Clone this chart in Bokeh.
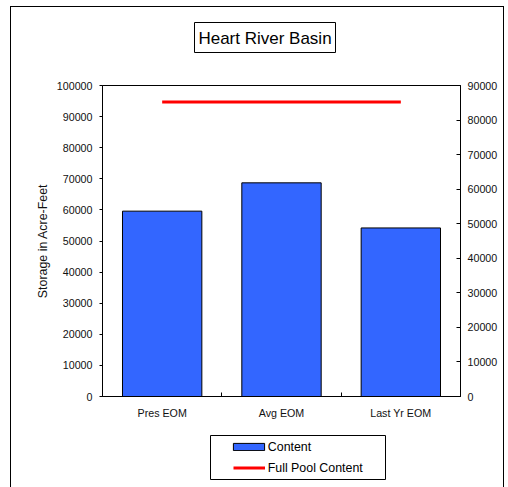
from bokeh.plotting import figure
from bokeh.layouts import column
from bokeh.models import (Range1d, LinearAxis, FixedTicker, NumeralTickFormatter,
                          Legend, LegendItem, ColumnDataSource, BoxAnnotation, Label)
from bokeh.embed import file_html
from bokeh.resources import INLINE

# ---- data ----
categories = ["Pres EOM", "Avg EOM", "Last Yr EOM"]
content = [59600, 68700, 54200]
full_pool = [85200, 85200, 85200]          # plotted on secondary axis
left_ticks = list(range(0, 100001, 10000))
right_ticks = list(range(0, 90001, 10000))
title_text = "Heart River Basin"
y_label = "Storage in Acre-Feet"
legend_labels = ["Content", "Full Pool Content"]

FONT = "Liberation Sans"
W = 505
H0, H1, H2 = 75, 350, 62          # title strip, chart, legend strip
FL, FR = 102, 460                 # frame left/right (page px)
TOP1 = 10                         # chart frame top inside chart figure (page 85)
BOT1 = 396                        # chart frame bottom (page px)

BAR_FILL, BAR_LINE, POOL_COLOR = "#3366FF", "#000000", "#FF0000"

xs = list(range(len(categories)))
minor = [i + 0.5 for i in xs[:-1]]

# ---- title strip (frame spans the plot width; coordinates = page px) ----
t = figure(width=W, height=H0, output_backend="svg", toolbar_location=None,
           title=None, x_axis_location=None, y_axis_location=None,
           x_range=Range1d(FL, FR), y_range=Range1d(H0, 0),
           min_border_left=FL, min_border_right=W - FR,
           min_border_top=0, min_border_bottom=0)
t.grid.visible = False
t.outline_line_color = None
t.background_fill_color = None
t.border_fill_color = None
t.add_layout(BoxAnnotation(left=194, right=335, top=22, bottom=52,
                           fill_color="white", fill_alpha=1,
                           line_color="black", line_width=1, line_alpha=1))
t.add_layout(Label(x=264.5, y=37.5, text=title_text, text_align="center",
                   text_baseline="middle", text_font=FONT, text_font_size="17px",
                   text_color="black"))

# ---- chart ----
p = figure(width=W, height=H1, output_backend="svg", toolbar_location=None,
           title=None,
           x_range=Range1d(-0.5, len(categories) - 0.5),
           y_range=Range1d(left_ticks[0], left_ticks[-1]),
           min_border_left=FL, min_border_right=W - FR,
           min_border_top=TOP1, min_border_bottom=H0 + H1 - BOT1)
p.extra_y_ranges = {"right": Range1d(right_ticks[0], right_ticks[-1])}
p.grid.visible = False
p.outline_line_color = "black"
p.outline_line_width = 1
p.background_fill_color = "white"
p.border_fill_color = None

# x axis
xa = p.xaxis[0]
xa.ticker = FixedTicker(ticks=xs, minor_ticks=minor)
xa.major_label_overrides = {i: c for i, c in zip(xs, categories)}
xa.major_tick_in = 0
xa.major_tick_out = 0
xa.minor_tick_in = 4
xa.minor_tick_out = 0
xa.minor_tick_line_color = "black"
xa.axis_line_color = "black"
xa.major_label_standoff = 10
xa.major_label_text_font = FONT
xa.major_label_text_font_size = "10.7px"
xa.major_label_text_color = "#111111"

# left axis
ya = p.yaxis[0]
ya.ticker = FixedTicker(ticks=left_ticks)
ya.formatter = NumeralTickFormatter(format="0")
ya.major_tick_out = 3
ya.major_tick_in = 0
ya.minor_tick_line_color = None
ya.axis_line_color = "black"
ya.major_label_standoff = 7
ya.major_label_text_font = FONT
ya.major_label_text_font_size = "10.7px"
ya.major_label_text_color = "#111111"
ya.axis_label = y_label
ya.axis_label_text_font = FONT
ya.axis_label_text_font_size = "12.4px"
ya.axis_label_text_font_style = "normal"
ya.axis_label_text_color = "#111111"
ya.axis_label_standoff = 4

# right axis
ra = LinearAxis(y_range_name="right", ticker=FixedTicker(ticks=right_ticks),
                formatter=NumeralTickFormatter(format="0"))
ra.major_tick_in = 4
ra.major_tick_out = 0
ra.minor_tick_line_color = None
ra.axis_line_color = "black"
ra.major_label_standoff = 7
ra.major_label_text_font = FONT
ra.major_label_text_font_size = "10.7px"
ra.major_label_text_color = "#111111"
p.add_layout(ra, "right")

src = ColumnDataSource(dict(x=xs, content=content, full_pool=full_pool, cat=categories))
p.vbar(x="x", top="content", width=0.665, source=src,
       fill_color=BAR_FILL, line_color=BAR_LINE, line_width=1)
p.line(x="x", y="full_pool", y_range_name="right", source=src,
       line_color=POOL_COLOR, line_width=3)

# ---- legend strip below the chart (coordinates = page px) ----
Y0 = H0 + H1
q = figure(width=W, height=H2, output_backend="svg", toolbar_location=None,
           title=None, x_axis_location=None, y_axis_location=None,
           x_range=Range1d(FL, FR), y_range=Range1d(Y0 + H2, Y0),
           min_border_left=FL, min_border_right=W - FR,
           min_border_top=0, min_border_bottom=0)
q.grid.visible = False
q.outline_line_color = None
q.background_fill_color = None
q.border_fill_color = None
q.add_layout(BoxAnnotation(left=210, right=385, top=435, bottom=479,
                           fill_color="white", fill_alpha=1,
                           line_color="black", line_width=1, line_alpha=1))
# legend key renderers: same data/style, hidden in this strip (keys only)
lg_bar = q.vbar(x="x", top="content", width=0.665, source=src,
                fill_color=BAR_FILL, line_color=BAR_LINE, line_width=1, visible=False)
lg_line = q.line(x="x", y="full_pool", source=src, line_color=POOL_COLOR,
                 line_width=3, visible=False)

common = dict(border_line_color=None, background_fill_alpha=0, padding=0, margin=0,
              label_height=14, label_text_font=FONT, label_text_font_size="12.4px",
              label_text_color="black", inactive_fill_alpha=0)
leg1 = Legend(items=[LegendItem(label=legend_labels[0], renderers=[lg_bar])],
              location=(126.8, 33.2), glyph_width=39, glyph_height=9,
              label_standoff=0, **common)
leg2 = Legend(items=[LegendItem(label=legend_labels[1], renderers=[lg_line])],
              location=(130.7, 12.2), glyph_width=32, glyph_height=9,
              label_standoff=3, **common)
q.add_layout(leg1)
q.add_layout(leg2)

layout = column(t, p, q, spacing=0)
# outer chart border (left, top, right) drawn as background lines
layout.styles = {
    "background-color": "white",
    "background-image": "linear-gradient(#000,#000), linear-gradient(#000,#000), linear-gradient(#000,#000)",
    "background-size": "1px 490px, 494px 1px, 1px 490px",
    "background-position": "10px 6px, 10px 6px, 503px 6px",
    "background-repeat": "no-repeat",
}

open("out.html", "w").write(file_html(layout, INLINE))
